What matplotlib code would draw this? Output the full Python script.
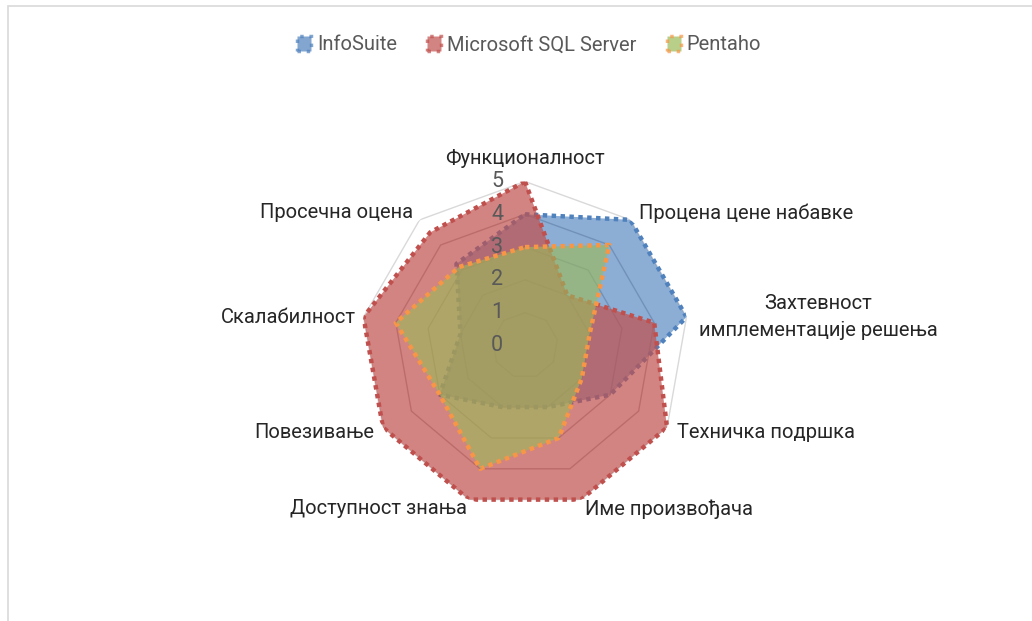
import numpy as np
import matplotlib
matplotlib.use("Agg")
import matplotlib.pyplot as plt
from matplotlib.patches import Patch, Rectangle

plt.rcParams['font.family'] = ['Roboto', 'DejaVu Sans']

# категорије и оцене (прочитано са графикона)
categories = ['Функционалност', 'Процена цене набавке',
              'Захтевност\nимплементације решења', 'Техничка подршка',
              'Име произвођача', 'Доступност знања', 'Повезивање',
              'Скалабилност', 'Просечна оцена']
series_names = ['InfoSuite', 'Microsoft SQL Server', 'Pentaho']
infosuite = [4, 5, 5, 3, 2, 2, 3, 2, 3.25]
mssql = [5, 2, 4, 5, 5, 5, 5, 5, 4.5]
pentaho = [3, 4, 2, 2, 3, 4, 3, 4, 3.125]
levels = [0, 1, 2, 3, 4, 5]

line_colors = ['#4F81BD', '#C0504D', '#F79646']
fill_colors = ['#4F81BD', '#C0504D', '#9BBB59']

# помераји натписа категорија (у пикселима, y нагоре) и поравнање
label_offsets = [(0, 14), (9, 7), (12, 0), (10, -5), (4, -10),
                 (-2, -9), (-9, -5), (-8, 0), (-6, 7)]
label_ha = ['center', 'left', 'left', 'left', 'left',
            'right', 'right', 'right', 'right']
label_va = ['bottom', 'center', 'center', 'center', 'center',
            'center', 'center', 'center', 'center']

fig = plt.figure(figsize=(10.32, 6.21), dpi=100)
fig.patch.set_facecolor('white')

# оквир области графикона
fig.patches.append(Rectangle((8 / 1032, -0.2), 1.2, 1.2 - 6 / 621,
                             transform=fig.transFigure, fill=False,
                             edgecolor='#D9D9D9', linewidth=1.2))

ax = fig.add_axes([(525 - 164) / 1032, (621 - 345.5 - 164) / 621,
                   328 / 1032, 328 / 621], projection='polar')
ax.set_theta_offset(np.pi / 2)
ax.set_theta_direction(-1)
ax.set_ylim(0, 5)
ax.grid(False)
ax.set_xticks([])
ax.set_yticks([])
ax.spines['polar'].set_visible(False)
ax.patch.set_alpha(0)

n = len(categories)
angles = np.linspace(0, 2 * np.pi, n, endpoint=False)
closed = np.append(angles, angles[0])

# мрежа
for lv in levels[1:]:
    col = '#D9D9D9' if lv == 5 else '#B0B0B0'
    ax.plot(closed, [lv] * (n + 1), color=col, linewidth=1.0, zorder=1)

data = [infosuite, mssql, pentaho]
fill_alpha = [0.65, 0.7, 0.62]
for i, vals in enumerate(data):
    v = np.append(vals, vals[0])
    ax.fill(closed, v, color=fill_colors[i], alpha=fill_alpha[i], linewidth=0,
            zorder=2 + 2 * i)
    ax.plot(closed, v, color=line_colors[i], linewidth=3.2,
            linestyle=(0, (1, 1)), zorder=3 + 2 * i)

# натписи вредности
for lv in levels:
    ax.annotate(str(lv), xy=(0, lv), xytext=(-22, 0),
                textcoords='offset pixels', ha='right', va='center',
                fontsize=15.5, color='#595959', zorder=20)

# натписи категорија
for i, lab in enumerate(categories):
    ax.annotate(lab, xy=(angles[i], 5), xytext=label_offsets[i],
                textcoords='offset pixels', ha=label_ha[i], va=label_va[i],
                multialignment='center', linespacing=1.55, fontsize=14.5,
                color='#262626', annotation_clip=False, zorder=20)

handles = [Patch(facecolor=fill_colors[i], alpha=0.7, edgecolor=line_colors[i],
                 linestyle=':', linewidth=2.5) for i in range(3)]
fig.legend(handles, series_names, loc='center', ncol=3,
           bbox_to_anchor=(529 / 1032, 1 - 45 / 621), frameon=False,
           fontsize=14.5, handlelength=0.7, handleheight=0.7,
           handletextpad=0.3, columnspacing=1.5, labelcolor='#595959')

fig.savefig('out.png', dpi=100, facecolor='white')
